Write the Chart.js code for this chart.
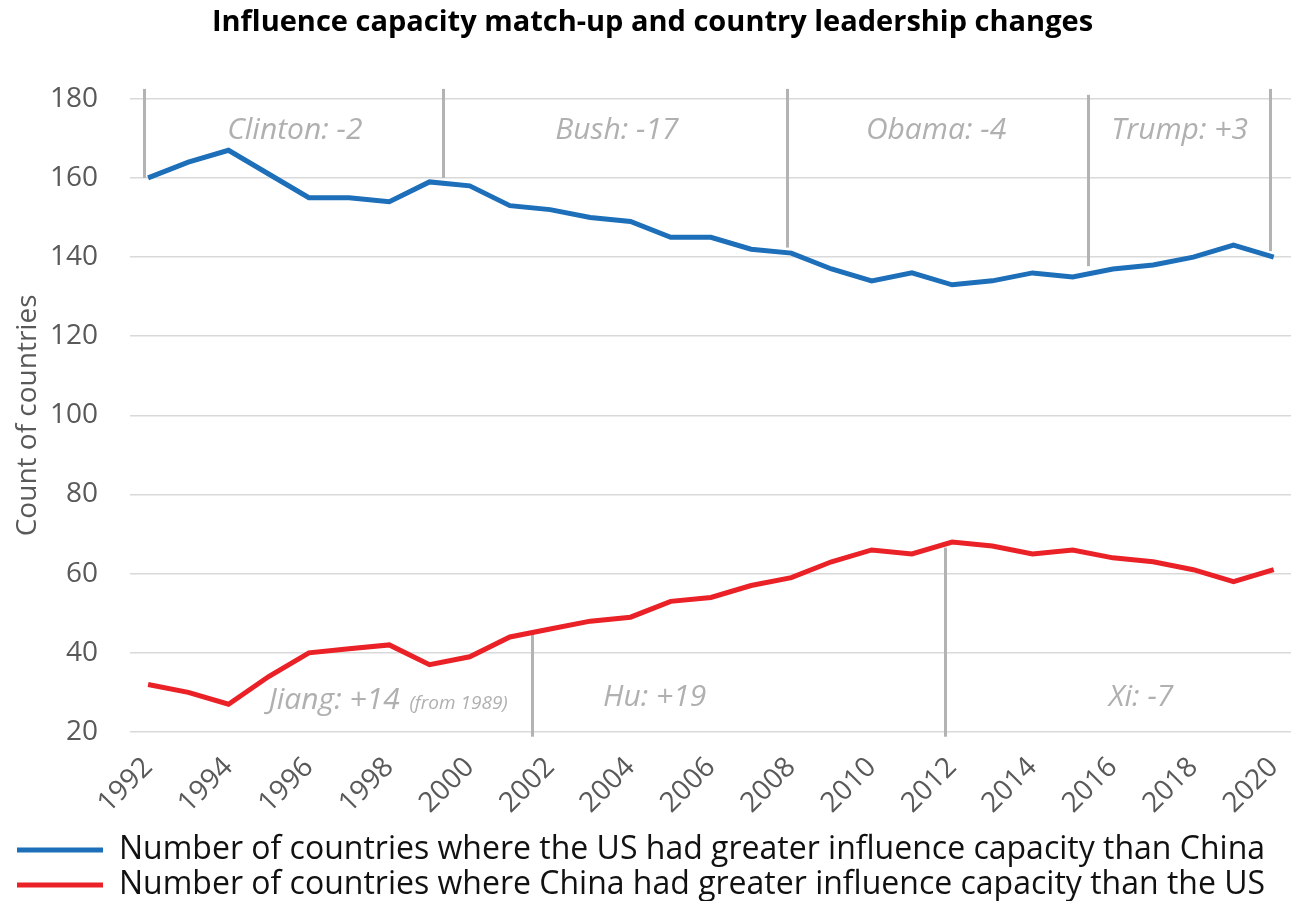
<!DOCTYPE html>
<html>
<head>
<meta charset="utf-8">
<script src="https://cdn.jsdelivr.net/npm/chart.js@4"></script>
<style>
  html, body { margin: 0; padding: 0; background: #fff; }
  #wrap { width: 1291px; height: 901px; position: relative; }
</style>
</head>
<body>
<div id="wrap"><canvas id="chart"></canvas></div>
<script>
const years = [1992, 1993, 1994, 1995, 1996, 1997, 1998, 1999, 2000, 2001, 2002, 2003, 2004, 2005, 2006,
               2007, 2008, 2009, 2010, 2011, 2012, 2013, 2014, 2015, 2016, 2017, 2018, 2019, 2020];
const usAhead = [160, 164, 167, 161, 155, 155, 154, 159, 158, 153, 152, 150, 149, 145, 145,
                 142, 141, 137, 134, 136, 133, 134, 136, 135, 137, 138, 140, 143, 140];
const chinaAhead = [32, 30, 27, 34, 40, 41, 42, 37, 39, 44, 46, 48, 49, 53, 54,
                    57, 59, 63, 66, 65, 68, 67, 65, 66, 64, 63, 61, 58, 61];
const yTicks = [20, 40, 60, 80, 100, 120, 140, 160, 180];

// leadership change markers: year position, top value, bottom value
const usChangeX = [1991.9, 1999.33, 2007.9, 2015.38, 2019.92];
const usChangeTop = [182.5, 182.5, 182.5, 181, 182.5];
const usChangeBottom = [160, 160, 142.4, 137.7, 141.5];
const usLabels = ['Clinton: -2', 'Bush: -17', 'Obama: -4', 'Trump: +3'];
const usLabelX = [1995.65, 2003.66, 2011.6, 2017.66];
const usLabelY = 172;

const cnChangeX = [2001.56, 2011.82];
const cnChangeTop = [45, 66.6];
const cnChangeBottom = [18.8, 18.8];
const cnLabels = ['Hu: +19', 'Xi: -7'];
const cnLabelX = [2004.6, 2016.7];
const cnLabelY = 28.6;
const jiangLabel = 'Jiang: +14';
const jiangNote = '(from 1989)';
const jiangX = 1995;

const FONT = '"Open Sans", Lato, sans-serif';

const leaderPlugin = {
    id: 'leaders',
    beforeDatasetsDraw(chart) {
        const ctx = chart.ctx;
        const x = chart.scales.x, y = chart.scales.y;
        ctx.save();
        ctx.strokeStyle = '#b3b3b3';
        ctx.lineWidth = 3;
        const lines = (xs, tops, bottoms) => {
            xs.forEach((v, i) => {
                const px = Math.round(x.getPixelForValue(v)) + 0.5;
                ctx.beginPath();
                ctx.moveTo(px, y.getPixelForValue(tops[i]));
                ctx.lineTo(px, y.getPixelForValue(bottoms[i]));
                ctx.stroke();
            });
        };
        lines(usChangeX, usChangeTop, usChangeBottom);
        lines(cnChangeX, cnChangeTop, cnChangeBottom);

        ctx.fillStyle = '#b0b0b0';
        ctx.font = 'italic 30px ' + FONT;
        ctx.textAlign = 'center';
        ctx.textBaseline = 'middle';
        usLabels.forEach((t, i) => ctx.fillText(t, x.getPixelForValue(usLabelX[i]), y.getPixelForValue(usLabelY)));
        cnLabels.forEach((t, i) => ctx.fillText(t, x.getPixelForValue(cnLabelX[i]), y.getPixelForValue(cnLabelY)));

        ctx.textAlign = 'left';
        ctx.textBaseline = 'alphabetic';
        const jx = x.getPixelForValue(jiangX);
        const jy = y.getPixelForValue(cnLabelY) + 11;
        ctx.fillText(jiangLabel, jx, jy);
        const w = ctx.measureText(jiangLabel + ' ').width;
        ctx.font = 'italic 19px ' + FONT;
        ctx.fillText(jiangNote, jx + w + 2, jy);
        ctx.restore();
    }
};

new Chart(document.getElementById('chart'), {
    type: 'line',
    data: {
        datasets: [{
            label: 'Number of countries where the US had greater influence capacity than China',
            data: years.map((yr, i) => ({ x: yr, y: usAhead[i] })),
            borderColor: '#1c6fb8',
            backgroundColor: '#1c6fb8',
            borderWidth: 5,
            pointRadius: 0,
            tension: 0
        }, {
            label: 'Number of countries where China had greater influence capacity than the US',
            data: years.map((yr, i) => ({ x: yr, y: chinaAhead[i] })),
            borderColor: '#ea2127',
            backgroundColor: '#ea2127',
            borderWidth: 5,
            pointRadius: 0,
            tension: 0
        }]
    },
    options: {
        animation: false,
        responsive: true,
        maintainAspectRatio: false,
        layout: { padding: { left: 14, right: 0, top: 0, bottom: -10 } },
        scales: {
            x: {
                type: 'linear',
                min: 1991.55,
                max: 2020.43,
                afterBuildTicks: s => { s.ticks = years.filter(v => v % 2 === 0).map(v => ({ value: v })); },
                afterFit: s => { s.paddingLeft = 0; s.paddingRight = 0; },
                grid: { display: false },
                border: { display: false },
                ticks: {
                    color: '#595959',
                    font: { family: FONT, size: 28 },
                    minRotation: 45,
                    maxRotation: 45,
                    padding: 11,
                    callback: v => String(v)
                }
            },
            y: {
                min: 20,
                max: 180,
                afterBuildTicks: s => { s.ticks = yTicks.map(v => ({ value: v })); },
                afterFit: s => { s.width = 116; },
                grid: { color: '#d9d9d9', lineWidth: 1.5, drawTicks: false },
                border: { display: false },
                ticks: {
                    color: '#595959',
                    font: { family: FONT, size: 28 },
                    padding: 32
                },
                title: {
                    display: true,
                    text: 'Count of countries',
                    color: '#595959',
                    font: { family: FONT, size: 28, lineHeight: 1 },
                    padding: { top: 0, bottom: 0 }
                }
            }
        },
        plugins: {
            title: {
                display: true,
                text: 'Influence capacity match-up and country leadership changes',
                color: '#000',
                font: { family: FONT, size: 29, weight: 'bold' },
                padding: { top: 5, bottom: 59 }
            },
            legend: {
                position: 'bottom',
                align: 'start',
                labels: {
                    boxWidth: 86,
                    boxHeight: 5,
                    color: '#111',
                    font: { family: FONT, size: 32 },
                    padding: 3,
                    generateLabels: chart => Chart.defaults.plugins.legend.labels.generateLabels(chart)
                        .map(l => ({ ...l, lineWidth: 0 }))
                }
            },
            tooltip: { enabled: false }
        }
    },
    plugins: [leaderPlugin]
});
</script>
</body>
</html>
